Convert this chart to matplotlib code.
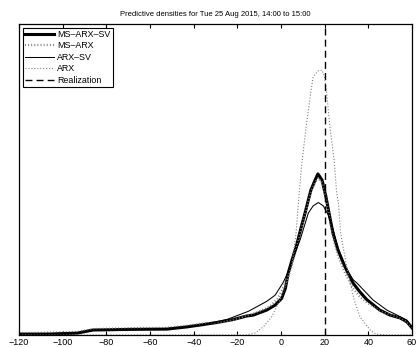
import matplotlib
matplotlib.use("Agg")
import matplotlib.pyplot as plt

plt.rcParams['font.family'] = ['Liberation Sans', 'DejaVu Sans']

title = "Predictive densities for Tue 25 Aug 2015, 14:00 to 15:00"
realization = 20

# MS-ARX-SV (thick black)
x_ms_arx_sv = [-120, -105.8, -93.4, -86.1, -69.2, -52.2, -43.1, -37.1, -29.5, -21.8, -15.7, -12.7,
               -10.4, -6.6, -2.7, 0.3, 2.0, 3.3, 5.0, 7.2, 9.0, 11.0, 12.5, 13.7, 15.6, 16.9, 18.8,
               20.6, 22.0, 23.8, 26.1, 29.3, 33.0, 36.2, 39.4, 45.3, 49.9, 54.5, 57.7, 60]
y_ms_arx_sv = [0.0003, 0.0003, 0.0006, 0.0016, 0.0018, 0.0019, 0.0026, 0.0032, 0.0040, 0.0050, 0.0061,
               0.0064, 0.0070, 0.0080, 0.0096, 0.0118, 0.0150, 0.0199, 0.0240, 0.0290, 0.0340, 0.0392,
               0.0434, 0.0466, 0.0498, 0.0518, 0.0498, 0.0444, 0.0392, 0.0328, 0.0273, 0.0219, 0.0167,
               0.0138, 0.0113, 0.0080, 0.0064, 0.0055, 0.0042, 0.0023]

# MS-ARX (dark dotted)
x_ms_arx = [-120, -105, -93, -86, -69, -52, -43, -37, -30, -23, -15.6, -10.5, -5, -1.4, 2.3, 4.6, 7.3,
            11, 13.7, 15.6, 17, 18.8, 20.6, 22, 23.8, 26.1, 29.3, 33, 36.2, 39.4, 45.3, 49.9, 54.5,
            57.7, 60]
y_ms_arx = [0.0006, 0.0008, 0.0010, 0.0019, 0.0022, 0.0023, 0.0030, 0.0036, 0.0040, 0.0047, 0.0062,
            0.0074, 0.0092, 0.0118, 0.0170, 0.0215, 0.0285, 0.0390, 0.0460, 0.0490, 0.0505, 0.0490,
            0.0440, 0.0385, 0.0315, 0.0255, 0.0200, 0.0150, 0.0122, 0.0104, 0.0078, 0.0064, 0.0055,
            0.0042, 0.0024]

# ARX-SV (thin black)
x_arx_sv = [-120, -105, -93, -86, -69, -52, -43, -35.7, -24.7, -15, -6.6, -2.7, 1.1, 3.3, 8.7, 12.5,
            14.7, 17.1, 19.4, 21.7, 24.0, 25.8, 29.3, 33.0, 34.8, 42.1, 48.5, 53.1, 57.7, 60]
y_arx_sv = [0.0004, 0.0005, 0.0008, 0.0016, 0.0019, 0.0021, 0.0027, 0.0033, 0.0050, 0.0076, 0.0108,
            0.0128, 0.0170, 0.0204, 0.0305, 0.0392, 0.0415, 0.0426, 0.0415, 0.0385, 0.0335, 0.0285,
            0.0219, 0.0178, 0.0167, 0.0113, 0.0080, 0.0064, 0.0048, 0.0026]

# ARX (light grey dotted)
x_arx = [-120, -16, -11.9, -8.1, -4.3, -0.5, 2.6, 4.9, 6.9, 7.9, 9.5, 11.5, 13.6, 14.7, 16.9, 18.8,
         19.9, 20.9, 22.4, 24.3, 25.5, 26.3, 27.3, 30.1, 33.5, 36.2, 40.8, 43.5, 48, 60]
y_arx = [0.0, 0.0, 0.0006, 0.0026, 0.0058, 0.0113, 0.0167, 0.0219, 0.0328, 0.0420, 0.0550, 0.0669,
         0.0778, 0.0830, 0.0849, 0.0852, 0.0830, 0.0778, 0.0669, 0.0563, 0.0457, 0.0425, 0.0328,
         0.0219, 0.0113, 0.0058, 0.0016, 0.0003, 0.0, 0.0]

fig = plt.figure(figsize=(4.16, 3.47), dpi=100)
ax = fig.add_axes([0.0457, 0.0346, 0.9447, 0.8962])

ax.plot(x_ms_arx_sv, y_ms_arx_sv, color='black', lw=2.2, label='MS–ARX–SV')
ax.plot(x_ms_arx, y_ms_arx, color='0.45', lw=1.6, linestyle=(0, (0.4, 1.0)), label='MS–ARX')
ax.plot(x_arx_sv, y_arx_sv, color='black', lw=0.75, label='ARX–SV')
ax.plot(x_arx, y_arx, color='0.5', lw=0.8, linestyle=':', label='ARX')
ax.axvline(realization, color='black', lw=1.0, linestyle=(0, (5, 3)), label='Realization')

ax.set_xlim(-120, 60)
ax.set_ylim(0, 0.1)
ax.set_xticks(range(-120, 61, 20))
ax.set_yticks([])
ax.tick_params(axis='x', direction='in', top=True, length=3, width=0.8, labelsize=6.5, pad=2)
for s in ax.spines.values():
    s.set_linewidth(0.9)

ax.set_title(title, fontsize=5.5, pad=6)

leg = ax.legend(loc='upper left', fontsize=6.4, frameon=True, fancybox=False, framealpha=1,
                edgecolor='black', handlelength=3.3, handletextpad=0.35, labelspacing=0.28,
                borderpad=0.25, borderaxespad=0.4)
leg.get_frame().set_linewidth(0.8)

fig.savefig('out.png', dpi=100)
